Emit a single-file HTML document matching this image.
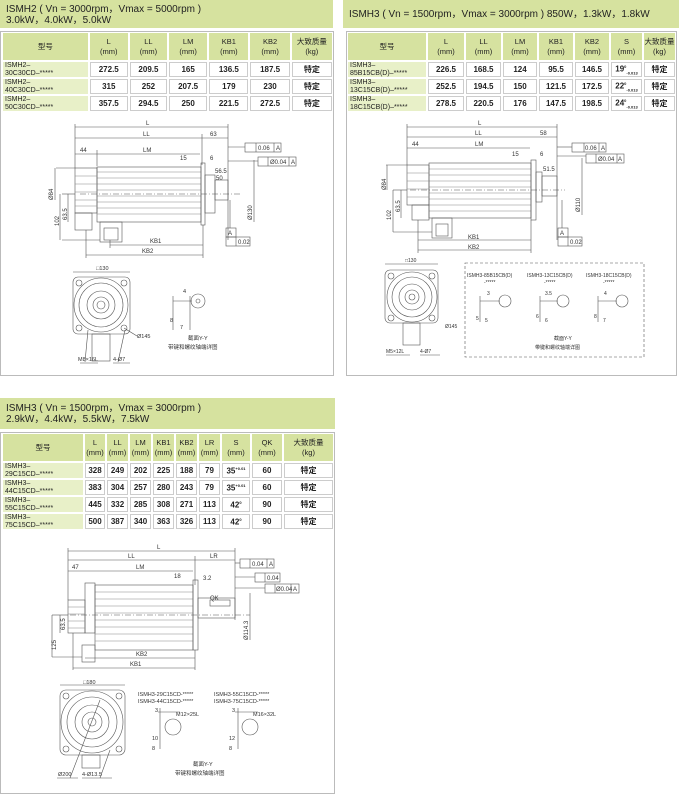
<!DOCTYPE html>
<html><head><meta charset="utf-8">
<style>
*{margin:0;padding:0;box-sizing:border-box}
body{width:679px;height:795px;background:#fff;position:relative;overflow:hidden;font-family:"Liberation Sans","Noto Sans CJK SC",sans-serif;color:#222}
.hd{position:absolute;background:#d6e29f;font-size:10px;line-height:11px;padding:4px 6px;color:#222}
.panel{position:absolute;border:1px solid #bbb;background:#fff}
table{position:absolute;border-collapse:separate;border-spacing:2px;font-size:8px;table-layout:fixed}
td{text-align:center;vertical-align:middle;font-weight:bold;border:1px solid #ccc;background:#fff;height:15px;padding:0;overflow:hidden;white-space:nowrap}
tr.h td{background:#d6e2a0;border:none;font-weight:normal;height:27px;line-height:10px;font-size:7.5px}
td.m{background:#e8f0c8;border:none;text-align:left;font-weight:normal;line-height:7.5px;padding-left:2px;font-size:7px}
sup{font-size:4px}
svg{position:absolute;left:0;top:0}
svg text{font-family:"Liberation Sans","Noto Sans CJK SC",sans-serif;fill:#333}
</style></head><body>

<div class="hd" style="left:0;top:0;width:333px;height:28px">ISMH2 ( Vn = 3000rpm，Vmax = 5000rpm )<br>3.0kW，4.0kW，5.0kW</div>
<div class="panel" style="left:0;top:31px;width:334px;height:345px"></div>
<table style="left:1px;top:31px;width:333px">
<colgroup><col style="width:82px"><col style="width:37px"><col style="width:36px"><col style="width:37px"><col style="width:38px"><col style="width:38px"><col style="width:39px"></colgroup>
<tr class="h"><td>型号</td><td>L<br>(mm)</td><td>LL<br>(mm)</td><td>LM<br>(mm)</td><td>KB1<br>(mm)</td><td>KB2<br>(mm)</td><td>大致质量<br>(kg)</td></tr>
<tr><td class="m">ISMH2–<br>30C30CD–*****</td><td>272.5</td><td>209.5</td><td>165</td><td>136.5</td><td>187.5</td><td>特定</td></tr>
<tr><td class="m">ISMH2–<br>40C30CD–*****</td><td>315</td><td>252</td><td>207.5</td><td>179</td><td>230</td><td>特定</td></tr>
<tr><td class="m">ISMH2–<br>50C30CD–*****</td><td>357.5</td><td>294.5</td><td>250</td><td>221.5</td><td>272.5</td><td>特定</td></tr>
</table>

<div class="hd" style="left:343px;top:0;width:336px;height:28px;padding-top:9px">ISMH3 ( Vn = 1500rpm，Vmax = 3000rpm ) 850W，1.3kW，1.8kW</div>
<div class="panel" style="left:346px;top:31px;width:331px;height:345px"></div>
<table style="left:346px;top:31px;width:331px">
<colgroup><col style="width:78px"><col style="width:36px"><col style="width:35px"><col style="width:34px"><col style="width:34px"><col style="width:34px"><col style="width:31px"><col style="width:31px"></colgroup>
<tr class="h"><td>型号</td><td>L<br>(mm)</td><td>LL<br>(mm)</td><td>LM<br>(mm)</td><td>KB1<br>(mm)</td><td>KB2<br>(mm)</td><td>S<br>(mm)</td><td>大致质量<br>(kg)</td></tr>
<tr><td class="m">ISMH3–<br>85B15CB(D)–*****</td><td>226.5</td><td>168.5</td><td>124</td><td>95.5</td><td>146.5</td><td>19<sup>0</sup><sub style="font-size:4px">-0.013</sub></td><td>特定</td></tr>
<tr><td class="m">ISMH3–<br>13C15CB(D)–*****</td><td>252.5</td><td>194.5</td><td>150</td><td>121.5</td><td>172.5</td><td>22<sup>0</sup><sub style="font-size:4px">-0.013</sub></td><td>特定</td></tr>
<tr><td class="m">ISMH3–<br>18C15CB(D)–*****</td><td>278.5</td><td>220.5</td><td>176</td><td>147.5</td><td>198.5</td><td>24<sup>0</sup><sub style="font-size:4px">-0.013</sub></td><td>特定</td></tr>
</table>

<div class="hd" style="left:0;top:398px;width:335px;height:31px;padding-top:5px">ISMH3 ( Vn = 1500rpm，Vmax = 3000rpm )<br>2.9kW，4.4kW，5.5kW，7.5kW</div>
<div class="panel" style="left:0;top:432px;width:335px;height:362px"></div>
<table style="left:1px;top:432px;width:334px">
<colgroup><col style="width:80px"><col style="width:20px"><col style="width:21px"><col style="width:21px"><col style="width:21px"><col style="width:21px"><col style="width:21px"><col style="width:28px"><col style="width:30px"><col style="width:49px"></colgroup>
<tr class="h"><td>型号</td><td>L<br>(mm)</td><td>LL<br>(mm)</td><td>LM<br>(mm)</td><td>KB1<br>(mm)</td><td>KB2<br>(mm)</td><td>LR<br>(mm)</td><td>S<br>(mm)</td><td>QK<br>(mm)</td><td>大致质量<br>(kg)</td></tr>
<tr><td class="m">ISMH3–<br>29C15CD–*****</td><td>328</td><td>249</td><td>202</td><td>225</td><td>188</td><td>79</td><td>35<sup>+0.01</sup></td><td>60</td><td>特定</td></tr>
<tr><td class="m">ISMH3–<br>44C15CD–*****</td><td>383</td><td>304</td><td>257</td><td>280</td><td>243</td><td>79</td><td>35<sup>+0.01</sup></td><td>60</td><td>特定</td></tr>
<tr><td class="m">ISMH3–<br>55C15CD–*****</td><td>445</td><td>332</td><td>285</td><td>308</td><td>271</td><td>113</td><td>42<sup>0</sup></td><td>90</td><td>特定</td></tr>
<tr><td class="m">ISMH3–<br>75C15CD–*****</td><td>500</td><td>387</td><td>340</td><td>363</td><td>326</td><td>113</td><td>42<sup>0</sup></td><td>90</td><td>特定</td></tr>
</table>

<svg width="679" height="795" viewBox="0 0 679 795" fill="none" stroke="#555" stroke-width="0.6" font-size="6">
<g>
<line x1="75" y1="127" x2="228" y2="127"/><line x1="75" y1="138" x2="202" y2="138"/><line x1="202" y1="138" x2="228" y2="138"/>
<line x1="75" y1="154" x2="97" y2="154"/><line x1="97" y1="154" x2="200" y2="154"/>
<line x1="75" y1="124" x2="75" y2="168"/><line x1="228" y1="124" x2="228" y2="240"/><line x1="202" y1="134" x2="202" y2="165"/><line x1="97" y1="150" x2="97" y2="166"/>
<rect x="97" y="167" width="104" height="55"/>
<path d="M97 172H201M97 178H201M97 184H201M97 190H201M97 196H201M97 202H201M97 208H201M97 214H201" stroke="#888"/>
<line x1="80" y1="194" x2="240" y2="194" stroke-dasharray="6 2 1 2"/>
<rect x="201" y="163" width="4" height="62"/><rect x="205" y="175" width="10" height="38"/><rect x="215" y="180" width="13" height="20"/>
<rect x="75" y="168" width="22" height="45"/><path d="M75 176H97M75 184H97M75 192H97M75 200H97M75 206H97" stroke="#888"/>
<rect x="75" y="213" width="17" height="17"/>
<rect x="100" y="222" width="22" height="20"/><rect x="104" y="228" width="14" height="12"/>
<line x1="110" y1="245" x2="203" y2="245"/><line x1="86" y1="255" x2="203" y2="255"/><line x1="203" y1="225" x2="203" y2="258"/><line x1="86" y1="230" x2="86" y2="258"/><line x1="110" y1="240" x2="110" y2="248"/>
<line x1="56" y1="168" x2="75" y2="168"/><line x1="62" y1="194" x2="75" y2="194"/><line x1="62" y1="240" x2="100" y2="240"/>
<line x1="60" y1="194" x2="60" y2="240"/><line x1="68" y1="194" x2="68" y2="222"/><line x1="55" y1="168" x2="55" y2="200"/>
<line x1="254" y1="160" x2="254" y2="222"/><line x1="228" y1="147" x2="245" y2="147"/><line x1="228" y1="161" x2="258" y2="161"/>
<line x1="230" y1="200" x2="230" y2="228"/>
<rect x="245" y="143" width="36" height="9"/><line x1="256" y1="143" x2="256" y2="152"/><line x1="274" y1="143" x2="274" y2="152"/>
<rect x="258" y="157" width="38" height="9"/><line x1="268" y1="157" x2="268" y2="166"/><line x1="289" y1="157" x2="289" y2="166"/>
<rect x="226" y="228" width="10" height="9"/><rect x="226" y="237" width="24" height="9"/><line x1="236" y1="237" x2="236" y2="246"/>
</g>
<g fill="#333" stroke="none">
<text x="146" y="125">L</text><text x="143" y="136">LL</text><text x="210" y="136">63</text><text x="143" y="152">LM</text><text x="80" y="152">44</text>
<text x="180" y="160">15</text><text x="210" y="160">6</text><text x="215" y="173">56.5</text><text x="216" y="180">50</text>
<text x="150" y="243">KB1</text><text x="142" y="253">KB2</text>
<text x="258" y="150">0.06</text><text x="276" y="150">A</text><text x="270" y="164">Ø0.04</text><text x="291" y="164">A</text><text x="228" y="235">A</text><text x="238" y="244">0.02</text>
<text transform="translate(53,200) rotate(-90)">Ø84</text><text transform="translate(59,226) rotate(-90)">102</text><text transform="translate(67,220) rotate(-90)">63.5</text>
<text transform="translate(252,220) rotate(-90)">Ø130</text>
</g>
<g>
<rect x="73" y="277" width="57" height="57" rx="5"/>
<circle cx="101" cy="305" r="27"/><circle cx="101" cy="305" r="22"/><circle cx="101" cy="305" r="14"/><circle cx="101" cy="305" r="8"/><circle cx="101" cy="305" r="4"/>
<circle cx="79" cy="283" r="3"/><circle cx="124" cy="283" r="3"/><circle cx="79" cy="328" r="3"/><circle cx="124" cy="328" r="3"/>
<rect x="92" y="334" width="18" height="27"/><line x1="73" y1="272" x2="130" y2="272"/>
<line x1="124" y1="328" x2="137" y2="336"/><line x1="80" y1="363" x2="98" y2="363"/><line x1="113" y1="363" x2="130" y2="363"/>
<line x1="85" y1="362" x2="88" y2="330"/><line x1="118" y1="362" x2="125" y2="330"/>
<line x1="173" y1="301" x2="192" y2="301"/><line x1="173" y1="296" x2="173" y2="330"/><line x1="190" y1="296" x2="190" y2="330"/><circle cx="198" cy="301" r="7"/><circle cx="198" cy="301" r="2"/>
</g>
<g fill="#333" stroke="none" font-size="5.5">
<text x="96" y="270">□130</text><text x="137" y="338">Ø145</text><text x="78" y="361">M8×16L</text><text x="113" y="361">4-Ø7</text>
<text x="183" y="293">4</text><text x="170" y="322">8</text><text x="180" y="329">7</text>
<text x="188" y="340">截面Y-Y</text><text x="168" y="349">带键和螺纹轴端详图</text>
</g>

<g>
<line x1="407" y1="127" x2="557" y2="127"/><line x1="407" y1="137" x2="532" y2="137"/><line x1="532" y1="137" x2="557" y2="137"/>
<line x1="407" y1="148" x2="429" y2="148"/><line x1="429" y1="148" x2="530" y2="148"/>
<line x1="407" y1="124" x2="407" y2="165"/><line x1="557" y1="124" x2="557" y2="240"/>
<rect x="429" y="163" width="102" height="55"/>
<path d="M429 169H531M429 175H531M429 181H531M429 187H531M429 193H531M429 199H531M429 205H531M429 211H531" stroke="#888"/>
<line x1="410" y1="190" x2="565" y2="190" stroke-dasharray="6 2 1 2"/>
<rect x="531" y="160" width="5" height="60"/><rect x="536" y="172" width="6" height="30"/><rect x="542" y="176" width="15" height="20"/>
<rect x="407" y="165" width="22" height="40"/><path d="M407 173H429M407 181H429M407 189H429M407 197H429" stroke="#888"/>
<rect x="412" y="205" width="17" height="15"/>
<rect x="432" y="218" width="20" height="20"/><rect x="436" y="224" width="12" height="12"/>
<line x1="418" y1="240" x2="531" y2="240"/><line x1="418" y1="250" x2="531" y2="250"/><line x1="531" y1="220" x2="531" y2="253"/><line x1="418" y1="220" x2="418" y2="253"/>
<line x1="386" y1="165" x2="407" y2="165"/><line x1="393" y1="190" x2="407" y2="190"/><line x1="393" y1="232" x2="432" y2="232"/>
<line x1="387" y1="165" x2="387" y2="190"/><line x1="393" y1="190" x2="393" y2="232"/><line x1="401" y1="190" x2="401" y2="218"/>
<line x1="582" y1="158" x2="582" y2="215"/><line x1="557" y1="147" x2="572" y2="147"/><line x1="557" y1="156" x2="586" y2="156"/>
<line x1="562" y1="200" x2="562" y2="228"/>
<rect x="572" y="143" width="34" height="9"/><line x1="584" y1="143" x2="584" y2="152"/><line x1="599" y1="143" x2="599" y2="152"/>
<rect x="586" y="154" width="38" height="9"/><line x1="596" y1="154" x2="596" y2="163"/><line x1="617" y1="154" x2="617" y2="163"/>
<rect x="558" y="228" width="10" height="9"/><rect x="558" y="237" width="24" height="9"/><line x1="568" y1="237" x2="568" y2="246"/>
</g>
<g fill="#333" stroke="none">
<text x="478" y="125">L</text><text x="475" y="135">LL</text><text x="540" y="135">58</text><text x="475" y="146">LM</text><text x="412" y="146">44</text>
<text x="512" y="156">15</text><text x="540" y="156">6</text><text x="543" y="171">51.5</text>
<text x="468" y="239">KB1</text><text x="468" y="249">KB2</text>
<text x="585" y="150">0.06</text><text x="601" y="150">A</text><text x="598" y="161">Ø0.04</text><text x="618" y="161">A</text><text x="560" y="235">A</text><text x="570" y="244">0.02</text>
<text transform="translate(386,190) rotate(-90)">Ø84</text><text transform="translate(391,220) rotate(-90)">102</text><text transform="translate(400,212) rotate(-90)">63.5</text>
<text transform="translate(580,212) rotate(-90)">Ø110</text>
</g>
<g>
<rect x="385" y="270" width="53" height="53" rx="5"/>
<circle cx="412" cy="297" r="25"/><circle cx="412" cy="297" r="20"/><circle cx="412" cy="297" r="13"/><circle cx="412" cy="297" r="7"/><circle cx="412" cy="297" r="3"/>
<circle cx="391" cy="276" r="3"/><circle cx="432" cy="276" r="3"/><circle cx="391" cy="318" r="3"/><circle cx="432" cy="318" r="3"/>
<rect x="403" y="323" width="17" height="22"/><line x1="385" y1="264" x2="438" y2="264"/>
<line x1="386" y1="355" x2="410" y2="355"/><line x1="420" y1="355" x2="440" y2="355"/>
<rect x="465" y="263" width="179" height="94" stroke-dasharray="3 2"/>
<line x1="480" y1="301" x2="500" y2="301"/><line x1="480" y1="296" x2="480" y2="322"/><circle cx="505" cy="301" r="6"/>
<line x1="540" y1="301" x2="558" y2="301"/><line x1="540" y1="296" x2="540" y2="322"/><circle cx="563" cy="301" r="6"/>
<line x1="598" y1="301" x2="617" y2="301"/><line x1="598" y1="296" x2="598" y2="322"/><circle cx="622" cy="301" r="6"/>
</g>
<g fill="#333" stroke="none" font-size="5">
<text x="405" y="262">□130</text><text x="445" y="328">Ø145</text><text x="386" y="353">M5×12L</text><text x="420" y="353">4-Ø7</text>
<text x="467" y="277">ISMH3-85B15CB(D)</text><text x="484" y="284">-*****</text>
<text x="527" y="277">ISMH3-13C15CB(D)</text><text x="544" y="284">-*****</text>
<text x="586" y="277">ISMH3-18C15CB(D)</text><text x="603" y="284">-*****</text>
<text x="487" y="295">3</text><text x="545" y="295">3.5</text><text x="604" y="295">4</text>
<text x="476" y="320">5</text><text x="485" y="322">5</text><text x="536" y="318">6</text><text x="545" y="322">6</text><text x="594" y="318">8</text><text x="603" y="322">7</text>
<text x="554" y="340">截面Y-Y</text><text x="535" y="349">带键和螺纹轴端详图</text>
</g>

<g>
<line x1="68" y1="551" x2="235" y2="551"/><line x1="68" y1="560" x2="195" y2="560"/><line x1="195" y1="560" x2="235" y2="560"/>
<line x1="68" y1="571" x2="85" y2="571"/><line x1="85" y1="571" x2="193" y2="571"/>
<line x1="68" y1="548" x2="68" y2="600"/><line x1="235" y1="548" x2="235" y2="620"/><line x1="195" y1="556" x2="195" y2="585"/>
<rect x="95" y="585" width="98" height="65"/>
<path d="M95 592H193M95 599H193M95 606H193M95 613H193M95 620H193M95 627H193M95 634H193M95 641H193" stroke="#888"/>
<line x1="70" y1="615" x2="250" y2="615" stroke-dasharray="6 2 1 2"/>
<rect x="85" y="583" width="10" height="50"/><rect x="193" y="580" width="5" height="70"/><rect x="198" y="598" width="37" height="20"/><rect x="210" y="600" width="20" height="6"/>
<rect x="68" y="600" width="17" height="33"/><path d="M68 607H85M68 614H85M68 621H85M68 628H85" stroke="#888"/>
<rect x="82" y="645" width="13" height="17"/>
<line x1="85" y1="658" x2="195" y2="658"/><line x1="73" y1="668" x2="195" y2="668"/><line x1="195" y1="650" x2="195" y2="670"/><line x1="73" y1="633" x2="73" y2="670"/>
<line x1="52" y1="615" x2="68" y2="615"/><line x1="52" y1="657" x2="82" y2="657"/><line x1="52" y1="615" x2="52" y2="657"/><line x1="60" y1="615" x2="60" y2="633"/>
<line x1="250" y1="593" x2="250" y2="640"/><line x1="235" y1="563" x2="240" y2="563"/><line x1="235" y1="577" x2="255" y2="577"/><line x1="235" y1="588" x2="265" y2="588"/>
<rect x="240" y="559" width="34" height="9"/><line x1="250" y1="559" x2="250" y2="568"/><line x1="267" y1="559" x2="267" y2="568"/>
<rect x="255" y="573" width="25" height="9"/><line x1="265" y1="573" x2="265" y2="582"/>
<rect x="265" y="584" width="34" height="9"/><line x1="275" y1="584" x2="275" y2="593"/><line x1="291" y1="584" x2="291" y2="593"/>
</g>
<g fill="#333" stroke="none">
<text x="157" y="549">L</text><text x="128" y="558">LL</text><text x="210" y="558">LR</text><text x="136" y="569">LM</text><text x="72" y="569">47</text>
<text x="174" y="578">18</text><text x="203" y="580">3.2</text><text x="210" y="600">QK</text>
<text x="136" y="656">KB2</text><text x="130" y="666">KB1</text>
<text x="252" y="566">0.04</text><text x="269" y="566">A</text><text x="267" y="580">0.04</text><text x="276" y="591">Ø0.04</text><text x="293" y="591">A</text>
<text transform="translate(56,650) rotate(-90)">125</text><text transform="translate(65,630) rotate(-90)">63.5</text>
<text transform="translate(248,640) rotate(-90)">Ø114.3</text>
</g>
<g>
<rect x="60" y="690" width="65" height="65" rx="6"/>
<circle cx="92" cy="722" r="31"/><circle cx="92" cy="722" r="25"/><circle cx="92" cy="722" r="17"/><circle cx="92" cy="722" r="10"/><circle cx="92" cy="722" r="4"/>
<circle cx="66" cy="696" r="3"/><circle cx="119" cy="696" r="3"/><circle cx="66" cy="749" r="3"/><circle cx="119" cy="749" r="3"/>
<rect x="82" y="755" width="18" height="13"/><line x1="60" y1="685" x2="125" y2="685"/>
<line x1="57" y1="778" x2="78" y2="778"/><line x1="82" y1="778" x2="112" y2="778"/><line x1="70" y1="778" x2="100" y2="700"/><line x1="100" y1="778" x2="110" y2="750"/>
<line x1="158" y1="712" x2="180" y2="712"/><line x1="160" y1="708" x2="160" y2="749"/><circle cx="173" cy="727" r="8"/>
<line x1="235" y1="712" x2="258" y2="712"/><line x1="238" y1="708" x2="238" y2="749"/><circle cx="250" cy="727" r="8"/>
</g>
<g fill="#333" stroke="none" font-size="5.5">
<text x="83" y="684">□180</text><text x="58" y="776">Ø200</text><text x="82" y="776">4-Ø13.5</text>
<text x="138" y="696">ISMH3-29C15CD-*****</text><text x="214" y="696">ISMH3-55C15CD-*****</text>
<text x="138" y="703">ISMH3-44C15CD-*****</text><text x="214" y="703">ISMH3-75C15CD-*****</text>
<text x="155" y="712">3</text><text x="176" y="716">M12×25L</text><text x="232" y="712">3</text><text x="253" y="716">M16×32L</text>
<text x="152" y="740">10</text><text x="152" y="750">8</text><text x="229" y="740">12</text><text x="229" y="750">8</text>
<text x="193" y="766">截面Y-Y</text><text x="175" y="775">带键和螺纹轴端详图</text>
</g>
</svg>
</body></html>
